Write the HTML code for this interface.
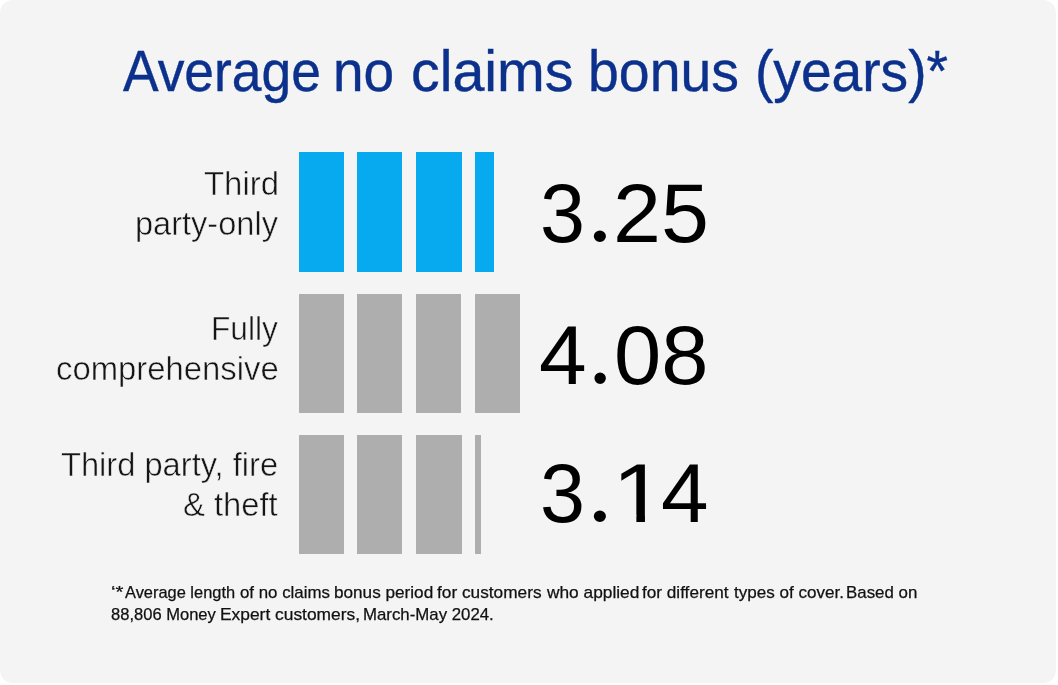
<!DOCTYPE html>
<html>
<head>
<meta charset="utf-8">
<title>Average no claims bonus (years)</title>
<style>
html,body{margin:0;padding:0;background:#fff;}
body{width:1058px;height:685px;position:relative;overflow:hidden;font-family:"Liberation Sans",sans-serif;}
.card{position:absolute;left:0;top:0;width:1056px;height:682.8px;background:#f4f4f4;border-radius:13px;}
.g{margin:0;padding:0;font-size:0;font-weight:normal;}
.bar{position:absolute;}
.blue{background:#07aaee;}
.grey{background:#aeaeae;}
.tx{position:absolute;white-space:nowrap;transform-origin:0 0;font-family:"Liberation Sans",sans-serif;}
.thin{-webkit-text-stroke:0.5px #f4f4f4;}
.clip1{clip-path:polygon(0 0,0.5em 0,0.5em 0.76em,0.3405em 0.76em,0.3405em 1.2em,0.252em 1.2em,0.252em 0.76em,0 0.76em);}
.foot .tx{-webkit-text-stroke:0.25px #111;}
.bold{-webkit-text-stroke:0.4px #0b318c;}
</style>
</head>
<body>
<div class="card"></div>

<div class="bar blue" style="left:298.9px;top:152.1px;width:44.9px;height:120px"></div>
<div class="bar blue" style="left:357px;top:152px;width:45px;height:119.5px"></div>
<div class="bar blue" style="left:416px;top:152px;width:45.5px;height:119.5px"></div>
<div class="bar blue" style="left:474.5px;top:152px;width:19.5px;height:119.5px"></div>

<div class="bar grey" style="left:298.5px;top:293.5px;width:45px;height:119px"></div>
<div class="bar grey" style="left:357px;top:293.5px;width:45px;height:119px"></div>
<div class="bar grey" style="left:416px;top:293.5px;width:45px;height:119px"></div>
<div class="bar grey" style="left:474.5px;top:293.5px;width:45px;height:119px"></div>

<div class="bar grey" style="left:299px;top:435px;width:45px;height:119px"></div>
<div class="bar grey" style="left:357px;top:434.5px;width:45px;height:119.5px"></div>
<div class="bar grey" style="left:416px;top:435px;width:45.5px;height:119px"></div>
<div class="bar grey" style="left:474.5px;top:434.5px;width:6.5px;height:119.5px"></div>

<h1 class="g title">
  <span class="tx bold" id="t1" style="left:122.7px;top:43px;font-size:57.5px;line-height:57.5px;color:#0b318c;transform:scaleX(0.9287);">Average</span>
  <span class="tx bold" id="t2" style="left:333.21px;top:43px;font-size:57.5px;line-height:57.5px;color:#0b318c;transform:scaleX(0.9562);">no</span>
  <span class="tx bold" id="t3" style="left:410.81px;top:43px;font-size:57.5px;line-height:57.5px;color:#0b318c;transform:scaleX(0.9972);">claims</span>
  <span class="tx bold" id="t4" style="left:587.67px;top:43px;font-size:57.5px;line-height:57.5px;color:#0b318c;transform:scaleX(0.9637);">bonus</span>
  <span class="tx bold" id="t5" style="left:754.63px;top:43px;font-size:57.5px;line-height:57.5px;color:#0b318c;transform:scaleX(0.9589);">(years)*</span>
</h1>
<div class="g label">
  <span class="tx thin" id="l1a" style="left:203.6px;top:167px;font-size:33px;line-height:33px;color:#151515;transform:scaleX(0.9979);">Third</span>
  <span class="tx thin" id="l1b" style="left:134.53px;top:207px;font-size:33px;line-height:33px;color:#151515;transform:scaleX(0.9863);">party-only</span>
</div>
<div class="g value">
  <span class="tx" id="n1a" style="left:539.78px;top:172px;font-size:83px;line-height:83px;color:#000;transform:scaleX(0.9747);">3</span><span class="tx" id="n1d" style="left:587.25px;top:159px;font-size:98.34px;line-height:98.34px;color:#000;transform:scaleX(1.0474);font-family:'Liberation Serif',serif;">.</span><span class="tx" id="n1b" style="left:612.64px;top:172px;font-size:83px;line-height:83px;color:#000;transform:scaleX(1.0395);">25</span>
</div>
<div class="g label">
  <span class="tx thin" id="l2a" style="left:211.31px;top:312px;font-size:33px;line-height:33px;color:#151515;transform:scaleX(0.9609);">Fully</span>
  <span class="tx thin" id="l2b" style="left:56.36px;top:352px;font-size:33px;line-height:33px;color:#151515;transform:scaleX(0.9955);">comprehensive</span>
</div>
<div class="g value">
  <span class="tx" id="n2a" style="left:539.19px;top:314px;font-size:83px;line-height:83px;color:#000;transform:scaleX(1.0321);">4</span><span class="tx" id="n2d" style="left:588.09px;top:302px;font-size:97.09px;line-height:97.09px;color:#000;transform:scaleX(1);font-family:'Liberation Serif',serif;">.</span><span class="tx" id="n2b" style="left:614.08px;top:314px;font-size:83px;line-height:83px;color:#000;transform:scaleX(1.0228);">08</span>
</div>
<div class="g label">
  <span class="tx thin" id="l3a" style="left:61.31px;top:448px;font-size:33px;line-height:33px;color:#151515;transform:scaleX(0.9894);">Third party, fire</span>
  <span class="tx thin" id="l3b" style="left:182.91px;top:488px;font-size:33px;line-height:33px;color:#151515;transform:scaleX(0.9925);">&amp; theft</span>
</div>
<div class="g value">
  <span class="tx" id="n3a" style="left:539.78px;top:452px;font-size:83px;line-height:83px;color:#000;transform:scaleX(0.9747);">3</span><span class="tx" id="n3d" style="left:587.25px;top:439px;font-size:98.34px;line-height:98.34px;color:#000;transform:scaleX(1.0474);font-family:'Liberation Serif',serif;">.</span><span class="tx clip1" id="n3b" style="left:611.74px;top:452px;font-size:83px;line-height:83px;color:#000;transform:scaleX(1.1659);">1</span><span class="tx" id="n3c" style="left:661.24px;top:452px;font-size:83px;line-height:83px;color:#000;transform:scaleX(1.0298);">4</span>
</div>
<p class="g foot">
  <span class="tx" id="f1a" style="left:111.12px;top:584px;font-size:16.2px;line-height:16.2px;color:#111;transform:scaleX(1.2572);">‘*</span><span class="tx" id="f1a2" style="left:124.65px;top:584px;font-size:16.2px;line-height:16.2px;color:#111;transform:scaleX(1.0135);">Average length</span>
  <span class="tx" id="f1b" style="left:239.73px;top:584px;font-size:16.2px;line-height:16.2px;color:#111;transform:scaleX(1.0411);">of no claims</span>
  <span class="tx" id="f1c" style="left:334.29px;top:584px;font-size:16.2px;line-height:16.2px;color:#111;transform:scaleX(1.0596);">bonus period</span>
  <span class="tx" id="f1d" style="left:437.48px;top:584px;font-size:16.2px;line-height:16.2px;color:#111;transform:scaleX(1.0658);">for customers</span>
  <span class="tx" id="f1e" style="left:546.65px;top:584px;font-size:16.2px;line-height:16.2px;color:#111;transform:scaleX(1.0690);">who applied</span>
  <span class="tx" id="f1f" style="left:642.14px;top:584px;font-size:16.2px;line-height:16.2px;color:#111;transform:scaleX(1.0603);">for different</span>
  <span class="tx" id="f1g" style="left:734.1px;top:584px;font-size:16.2px;line-height:16.2px;color:#111;transform:scaleX(1.0529);">types of cover.</span>
  <span class="tx" id="f1h" style="left:846.49px;top:584px;font-size:16.2px;line-height:16.2px;color:#111;transform:scaleX(1.0417);">Based on</span>
  <span class="tx" id="f2a" style="left:111.48px;top:606px;font-size:16.2px;line-height:16.2px;color:#111;transform:scaleX(1.0216);">88,806 Money</span>
  <span class="tx" id="f2b" style="left:220.06px;top:606px;font-size:16.2px;line-height:16.2px;color:#111;transform:scaleX(1.0736);">Expert customers,</span>
  <span class="tx" id="f2c" style="left:362.5px;top:606px;font-size:16.2px;line-height:16.2px;color:#111;transform:scaleX(1.0381);">March-May 2024.</span>
</p>
</body>
</html>
